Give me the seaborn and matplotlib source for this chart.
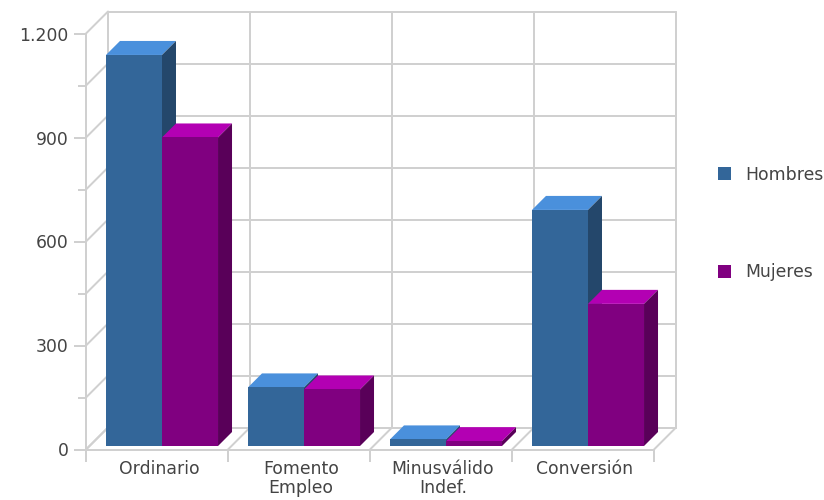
import matplotlib
matplotlib.use("Agg")
import matplotlib.pyplot as plt
import seaborn as sns
import pandas as pd
from matplotlib.patches import Polygon, Patch
from matplotlib.transforms import Affine2D, IdentityTransform

categories = ["Ordinario", "Fomento\nEmpleo", "Minusválido\nIndef.", "Conversión"]
hombres = [1128, 169, 19, 681]
mujeres = [890, 163, 14, 410]
major_ticks = [0, 300, 600, 900, 1200]
major_labels = ["0", "300", "600", "900", "1.200"]
minor_ticks = [150, 450, 750, 1050]
series_names = ["Hombres", "Mujeres"]

FRONT = {"Hombres": "#336699", "Mujeres": "#800080"}
TOP = {"Hombres": "#4A90DC", "Mujeres": "#B300B3"}
SIDE = {"Hombres": "#24476B", "Mujeres": "#590059"}
GRID = "#D0D0D0"
TEXT = "#444444"
W, H, DPI = 824, 500, 100
LW = 1.44
FS = 12.4

sns.set_theme(style="white")
plt.rcParams["font.family"] = ["DejaVu Sans"]

df = pd.DataFrame({
    "cat": categories * 2,
    "serie": ["Hombres"] * 4 + ["Mujeres"] * 4,
    "valor": hombres + mujeres,
})

fig = plt.figure(figsize=(W / DPI, H / DPI), dpi=DPI)
ax = fig.add_axes([86 / W, (H - 449.5) / H, 568 / W, 416 / H])
sns.barplot(data=df, x="cat", y="valor", hue="serie", hue_order=series_names,
            order=categories, palette=FRONT, width=0.789, gap=0, dodge=True,
            legend=False, saturation=1, ax=ax, errorbar=None, linewidth=0)
ax.set_xlim(-0.5, 3.5)
ax.set_ylim(0, 1200)
ax.set_xlabel("")
ax.set_ylabel("")

to_px = ax.transData.transform
WALL = 22      # wall depth in px
BAR_D = 14     # bar depth in px
SHIFT = (5, 3.5)
wall = ax.transData + Affine2D().translate(WALL, WALL)


def seg(p, **kw):
    ax.add_line(plt.Line2D([p[0], p[0] + WALL], [p[1], p[1] + WALL],
                           transform=IdentityTransform(), color=GRID, lw=LW,
                           clip_on=False, zorder=1))


# back wall
for v in major_ticks + minor_ticks:
    ax.plot([-0.5, 3.5], [v, v], transform=wall, color=GRID, lw=LW, clip_on=False, zorder=1)
    seg(to_px((-0.5, v)))
for x in [-0.5, 0.5, 1.5, 2.5, 3.5]:
    ax.plot([x, x], [0, 1200], transform=wall, color=GRID, lw=LW, clip_on=False, zorder=1)
    seg(to_px((x, 0)))

# bars: front faces from seaborn, side and top faces derived from them
bars = [p for c in ax.containers for p in c]
for i, p in enumerate(bars):
    name = series_names[i // 4]
    z = 3 + i // 4
    p.set_transform(ax.transData + Affine2D().translate(*SHIFT))
    p.set_clip_on(False)
    p.set_zorder(z + 0.2)
    x0, y0 = to_px((p.get_x(), 0))
    x1, y1 = to_px((p.get_x() + p.get_width(), p.get_height()))
    x0 += SHIFT[0]; x1 += SHIFT[0]; y0 += SHIFT[1]; y1 += SHIFT[1]
    d = BAR_D
    top = [(x0, y1), (x1, y1), (x1 + d, y1 + d), (x0 + d, y1 + d)]
    side = [(x1, y0), (x1 + d, y0 + d), (x1 + d, y1 + d), (x1, y1)]
    ax.add_patch(Polygon(top, closed=True, fc=TOP[name], ec="none",
                         transform=IdentityTransform(), clip_on=False, zorder=z))
    ax.add_patch(Polygon(side, closed=True, fc=SIDE[name], ec="none",
                         transform=IdentityTransform(), clip_on=False, zorder=z))

# axes
for s in ["top", "right"]:
    ax.spines[s].set_visible(False)
for s in ["left", "bottom"]:
    ax.spines[s].set_color(GRID)
    ax.spines[s].set_linewidth(LW)
    ax.spines[s].set_zorder(2)
ax.patch.set_alpha(0)
ax.set_yticks(major_ticks)
ax.set_yticklabels(major_labels)
ax.set_yticks(minor_ticks, minor=True)
ax.tick_params(axis="y", which="major", length=8.6, width=LW, color=GRID, pad=4,
               labelsize=FS, labelcolor=TEXT, left=True)
ax.tick_params(axis="y", which="minor", length=5.8, width=LW, color=GRID, left=True)
ax.set_xticks([-0.5, 0.5, 1.5, 2.5, 3.5], minor=True)
ax.set_xticks(range(4))
ax.set_xticklabels(categories, linespacing=1.08)
ax.tick_params(axis="x", which="minor", length=8.3, width=LW, color=GRID, bottom=True)
ax.tick_params(axis="x", which="major", length=0, pad=7.5, labelsize=FS, labelcolor=TEXT)
for lab in ax.get_xticklabels():
    lab.set_x(lab.get_position()[0])
    lab.set_transform(lab.get_transform() + Affine2D().translate(2, 0))

handles = [Patch(fc=FRONT[n], ec="none", label=n) for n in series_names]
fig.legend(handles=handles, loc="center left", bbox_to_anchor=(718 / W, (H - 223.5) / H),
           frameon=False, fontsize=FS, labelcolor=TEXT, handlelength=0.76, handleheight=0.76,
           handletextpad=0.8, labelspacing=4.63, borderpad=0, borderaxespad=0)

fig.savefig("out.png", dpi=DPI)
